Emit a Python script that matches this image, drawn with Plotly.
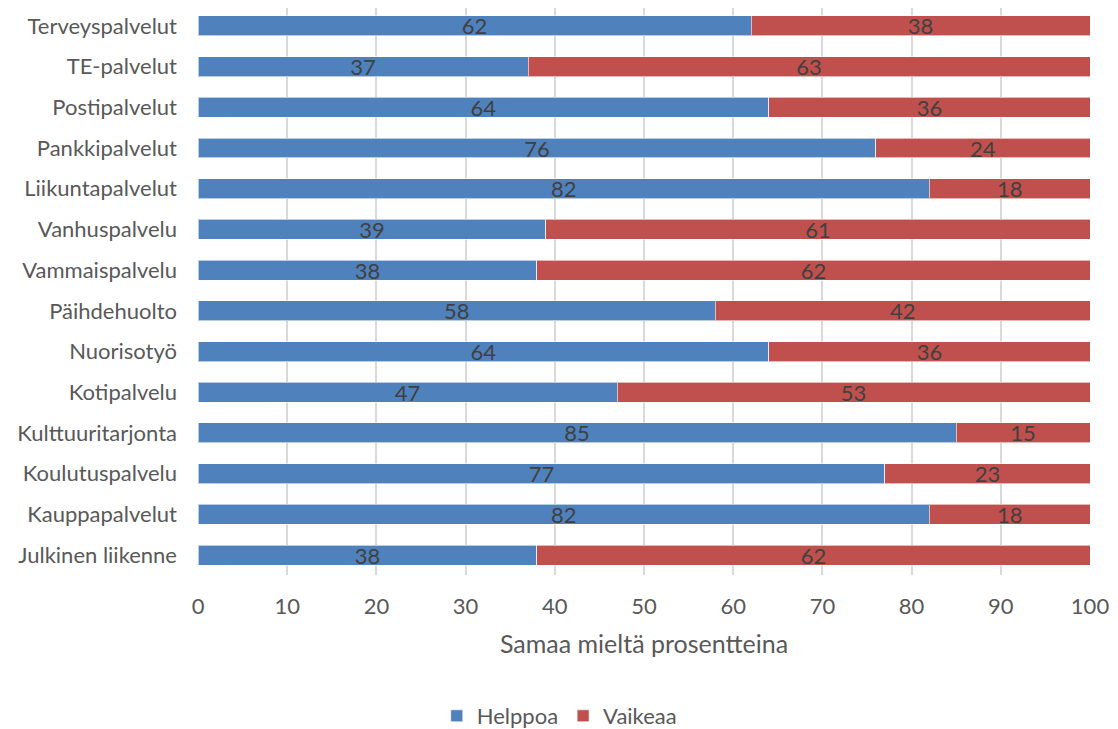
import plotly.graph_objects as go

categories = ["Terveyspalvelut", "TE-palvelut", "Postipalvelut", "Pankkipalvelut",
              "Liikuntapalvelut", "Vanhuspalvelu", "Vammaispalvelu", "Päihdehuolto",
              "Nuorisotyö", "Kotipalvelu", "Kulttuuritarjonta", "Koulutuspalvelu",
              "Kauppapalvelut", "Julkinen liikenne"]
helppoa = [62, 37, 64, 76, 82, 39, 38, 58, 64, 47, 85, 77, 82, 38]
vaikeaa = [38, 63, 36, 24, 18, 61, 62, 42, 36, 53, 15, 23, 18, 62]
x_ticks = [0, 10, 20, 30, 40, 50, 60, 70, 80, 90, 100]

n = len(categories)
ypos = [n - 1 - i for i in range(n)]

FONT = "Lato"
fig = go.Figure()
for name, vals, color in [("Helppoa", helppoa, "#4F81BD"), ("Vaikeaa", vaikeaa, "#C0504D")]:
    fig.add_trace(go.Bar(
        y=ypos, x=vals, name=name, orientation="h", width=0.49,
        marker=dict(color=color, line=dict(color="rgba(255,255,255,0.6)", width=1)),
        text=[str(v) for v in vals], textposition="inside", insidetextanchor="middle",
        textangle=0,
        textfont=dict(color="#404040", size=22, family=FONT),
        constraintext="none",
    ))

fig.update_layout(
    barmode="stack",
    width=1118, height=729,
    margin=dict(l=190, r=36, t=0, b=161),
    paper_bgcolor="white", plot_bgcolor="white",
    font=dict(family=FONT, color="#595959", size=22),
    xaxis=dict(range=[0, 100], tickvals=x_ticks, showgrid=True, gridcolor="#D9D9D9",
               gridwidth=1.5, zeroline=False, showline=False, ticks="",
               ticklabelstandoff=16,
               tickfont=dict(size=22, color="#595959"),
               title=dict(text="Samaa mieltä prosentteina", font=dict(size=25, color="#595959"),
                          standoff=17)),
    yaxis=dict(range=[-0.49, n - 1 + 0.44], tickvals=ypos, ticktext=categories,
               showgrid=False, zeroline=False, ticks="", ticklabelstandoff=20,
               tickfont=dict(size=22, color="#595959")),
    legend=dict(orientation="h", x=0.405, xanchor="center", y=-0.248, yanchor="middle",
                font=dict(size=22, color="#595959"), traceorder="normal"),
    showlegend=True,
)
fig.write_html("out.html")
